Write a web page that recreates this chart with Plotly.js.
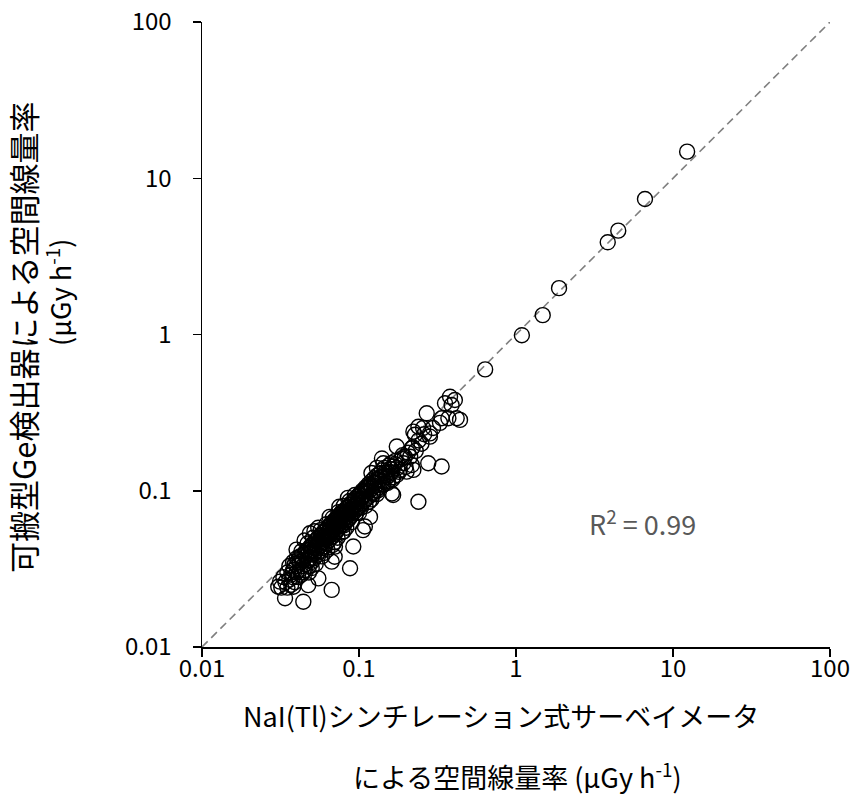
<!DOCTYPE html>
<html>
<head>
<meta charset="utf-8">
<script src="https://cdn.plot.ly/plotly-3.0.1.min.js"></script>
<style>html,body{margin:0;padding:0;background:#fff;}#chart{width:856px;height:805px;}</style>
</head>
<body>
<div id="chart"></div>
<script>
// NaI(Tl) survey meter air dose rate (µGy/h)
const naiRate = [
  12.3, 6.63, 4.48, 3.84, 1.88, 1.48, 1.09, 0.636,
  0.380, 0.408, 0.353, 0.389, 0.419, 0.371, 0.44, 0.270, 0.239, 0.256, 0.296, 0.328, 0.336,
  0.222, 0.283, 0.227, 0.283, 0.174, 0.217, 0.19, 0.196, 0.276, 0.336, 0.222, 0.143, 0.165,
  0.182, 0.150, 0.174, 0.201, 0.217, 0.14, 0.165, 0.162, 0.239,
  0.109, 0.106, 0.1175, 0.092, 0.070,
  0.0877, 0.067, 0.0442, 0.0338, 0.0314, 0.0382, 0.0475, 0.0551, 0.0487, 0.0401, 0.0382, 0.067, 0.0703, 0.0306,
  0.032, 0.033, 0.034, 0.035, 0.035, 0.036, 0.036, 0.037, 0.037, 0.038, 0.038, 0.039, 0.039, 0.040, 0.040,
  0.041, 0.041, 0.042, 0.042, 0.043, 0.043, 0.044, 0.044, 0.045, 0.045, 0.046, 0.046, 0.047, 0.047, 0.048,
  0.048, 0.049, 0.049, 0.050, 0.050, 0.051, 0.051, 0.052, 0.052, 0.053, 0.053, 0.054, 0.054, 0.055, 0.055,
  0.056, 0.056, 0.057, 0.057, 0.058, 0.058, 0.059, 0.059, 0.060, 0.060, 0.061, 0.061, 0.062, 0.062, 0.063,
  0.063, 0.064, 0.064, 0.065, 0.065, 0.066, 0.066, 0.067, 0.067, 0.068, 0.068, 0.069, 0.069, 0.070, 0.070,
  0.071, 0.071, 0.072, 0.072, 0.073, 0.073, 0.074, 0.074, 0.075, 0.075, 0.076, 0.076, 0.077, 0.078, 0.078,
  0.079, 0.080, 0.080, 0.081, 0.082, 0.082, 0.083, 0.084, 0.085, 0.085, 0.086, 0.087, 0.088, 0.088, 0.089,
  0.090, 0.091, 0.092, 0.093, 0.094, 0.095, 0.096, 0.097, 0.098, 0.099, 0.100, 0.101, 0.102, 0.104, 0.105,
  0.106, 0.108, 0.109, 0.110, 0.112, 0.113, 0.115, 0.117, 0.118, 0.120, 0.122, 0.124, 0.126, 0.128, 0.130,
  0.132, 0.134, 0.137, 0.140, 0.143, 0.146, 0.150, 0.153, 0.157, 0.160, 0.165, 0.170, 0.175, 0.180, 0.186,
  0.192, 0.198, 0.205, 0.212, 0.22, 0.23, 0.24, 0.25, 0.26,
  0.045, 0.055, 0.065, 0.075, 0.085, 0.040, 0.052, 0.060, 0.070, 0.080, 0.090, 0.100, 0.110, 0.050, 0.120, 0.130,
  0.12, 0.125, 0.13, 0.135, 0.14, 0.145, 0.155, 0.16, 0.17, 0.12, 0.13, 0.115, 0.11, 0.105,
  0.042, 0.044, 0.046, 0.048, 0.050, 0.052, 0.054, 0.056, 0.058, 0.060, 0.062, 0.064, 0.066, 0.068, 0.070,
  0.072, 0.074, 0.076, 0.078, 0.080, 0.082, 0.084, 0.086, 0.088, 0.090, 0.092, 0.094, 0.096, 0.098, 0.100,
  0.103, 0.106, 0.109, 0.112, 0.116, 0.119, 0.123, 0.127, 0.131, 0.136, 0.141, 0.147, 0.152, 0.158, 0.163,
  0.048, 0.053, 0.058, 0.063, 0.068, 0.073, 0.078, 0.083,
  0.038, 0.043, 0.047, 0.051, 0.057, 0.062, 0.068, 0.074, 0.080, 0.087, 0.094
];
// Portable Ge detector air dose rate (µGy/h)
const geRate = [
  14.8, 7.36, 4.62, 3.89, 1.98, 1.33, 0.99, 0.598,
  0.400, 0.381, 0.363, 0.354, 0.291, 0.291, 0.284, 0.313, 0.257, 0.252, 0.252, 0.272, 0.291,
  0.239, 0.233, 0.228, 0.222, 0.192, 0.187, 0.169, 0.165, 0.150, 0.143, 0.136, 0.150, 0.143,
  0.136, 0.123, 0.126, 0.1325, 0.146, 0.161, 0.094, 0.096, 0.085,
  0.059, 0.056, 0.068, 0.044, 0.0378,
  0.0319, 0.0232, 0.0195, 0.0205, 0.0262, 0.0243, 0.0249, 0.0275, 0.0535, 0.037, 0.0311, 0.0352, 0.0439, 0.0243,
  0.024, 0.028, 0.026, 0.030, 0.024, 0.027, 0.033, 0.029, 0.025, 0.031, 0.028, 0.034, 0.026, 0.030, 0.033,
  0.036, 0.028, 0.031, 0.035, 0.038, 0.029, 0.033, 0.036, 0.040, 0.031, 0.034, 0.038, 0.042, 0.036, 0.033,
  0.040, 0.044, 0.037, 0.041, 0.035, 0.046, 0.039, 0.043, 0.037, 0.048, 0.041, 0.045, 0.039, 0.050, 0.043,
  0.047, 0.041, 0.052, 0.045, 0.049, 0.043, 0.054, 0.047, 0.051, 0.044, 0.056, 0.049, 0.053, 0.046, 0.058,
  0.050, 0.055, 0.048, 0.060, 0.052, 0.057, 0.050, 0.062, 0.054, 0.059, 0.051, 0.064, 0.056, 0.061, 0.053,
  0.066, 0.058, 0.063, 0.055, 0.068, 0.060, 0.065, 0.057, 0.070, 0.062, 0.067, 0.059, 0.072, 0.064, 0.069,
  0.061, 0.074, 0.066, 0.071, 0.063, 0.076, 0.068, 0.073, 0.065, 0.078, 0.071, 0.081, 0.075, 0.068, 0.083,
  0.077, 0.072, 0.086, 0.080, 0.074, 0.089, 0.083, 0.077, 0.092, 0.086, 0.080, 0.095, 0.089, 0.083, 0.098,
  0.092, 0.086, 0.102, 0.095, 0.089, 0.105, 0.099, 0.093, 0.109, 0.103, 0.097, 0.113, 0.107, 0.101, 0.118,
  0.111, 0.105, 0.123, 0.116, 0.110, 0.130, 0.122, 0.115, 0.138, 0.130, 0.122, 0.148, 0.140, 0.132, 0.160,
  0.150, 0.142, 0.175, 0.165, 0.19, 0.18, 0.21, 0.20, 0.23,
  0.048, 0.058, 0.068, 0.079, 0.090, 0.042, 0.055, 0.040, 0.047, 0.055, 0.063, 0.072, 0.080, 0.032, 0.088, 0.095,
  0.115, 0.12, 0.125, 0.128, 0.135, 0.14, 0.145, 0.15, 0.155, 0.13, 0.14, 0.11, 0.105, 0.1,
  0.038, 0.030, 0.041, 0.036, 0.045, 0.040, 0.049, 0.044, 0.052, 0.047, 0.056, 0.051, 0.060, 0.055, 0.064,
  0.059, 0.068, 0.062, 0.073, 0.060, 0.070, 0.078, 0.066, 0.081, 0.070, 0.079, 0.088, 0.072, 0.082, 0.094,
  0.078, 0.098, 0.088, 0.100, 0.085, 0.108, 0.095, 0.112, 0.100, 0.118, 0.108, 0.125, 0.112, 0.132, 0.118,
  0.030, 0.034, 0.038, 0.042, 0.045, 0.050, 0.054, 0.058,
  0.035, 0.041, 0.046, 0.050, 0.056, 0.061, 0.067, 0.073, 0.080, 0.086, 0.094
];
// 1:1 reference line endpoints
const refLine = [0.01, 100];
const tickVals = [0.01, 0.1, 1, 10, 100];
const tickText = ["0.01", "0.1", "1", "10", "100"];
const r2Label = "R<sup>2</sup> = 0.99";
const xTitleLines = ["NaI(Tl)シンチレーション式サーベイメータ", "による空間線量率 (µGy h<sup>-1</sup>)"];
const yTitleLines = ["可搬型Ge検出器による空間線量率", "(µGy h<sup>-1</sup>)"];

const FONT = "Noto Sans CJK JP, Noto Sans, sans-serif";

const traces = [
  {
    x: refLine, y: refLine, mode: "lines", type: "scatter",
    line: {color: "#7f7f7f", width: 1.6, dash: "8px,5px"},
    hoverinfo: "skip", showlegend: false
  },
  {
    x: naiRate, y: geRate, mode: "markers", type: "scatter",
    marker: {symbol: "circle-open", size: 15, color: "#000000", line: {width: 1.4, color: "#000000"}},
    showlegend: false
  }
];

const axisCommon = {
  type: "log", range: [-2, 2], showgrid: false, zeroline: false,
  showline: true, linecolor: "#000000", linewidth: 1.5,
  ticks: "outside", ticklen: 8, tickwidth: 1.5, tickcolor: "#000000",
  tickvals: tickVals, ticktext: tickText,
  tickfont: {family: FONT, size: 24, color: "#000000"}
};

function ann(text, x, y, size, color, angle) {
  return {text: text, xref: "paper", yref: "paper", x: x, y: y,
          xanchor: "center", yanchor: "middle", textangle: angle || 0,
          showarrow: false, font: {family: FONT, size: size, color: color}};
}

const layout = {
  width: 856, height: 805,
  margin: {l: 202, r: 26, t: 22, b: 158},
  paper_bgcolor: "#ffffff", plot_bgcolor: "#ffffff",
  font: {family: FONT, color: "#000000"},
  xaxis: Object.assign({}, axisCommon, {ticklabelstandoff: -8}),
  yaxis: Object.assign({}, axisCommon, {ticklabelstandoff: 16}),
  annotations: [
    ann(r2Label, 0.702, 0.2, 27, "#595959"),
    ann(xTitleLines[0], 0.476, -0.109, 27, "#000000"),
    ann(xTitleLines[1], 0.5016, -0.205, 27, "#000000"),
    ann(yTitleLines[0], -0.2866, 0.496, 31, "#000000", -90),
    ann(yTitleLines[1], -0.2293, 0.568, 27, "#000000", -90)
  ]
};

Plotly.newPlot("chart", traces, layout, {displayModeBar: false, staticPlot: true});
</script>
</body>
</html>
